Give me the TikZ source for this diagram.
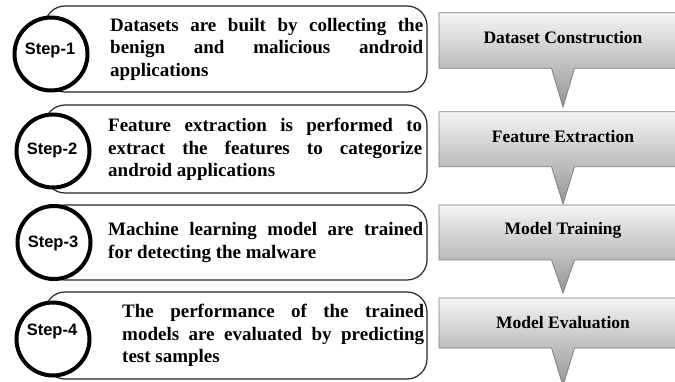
\documentclass[tikz,border=0pt]{standalone}
\usepackage{fontspec}
\setmainfont{Liberation Serif}
\setsansfont{Liberation Sans}
\begin{document}
\begin{tikzpicture}[x=1pt,y=-1pt,
  lbox/.style={draw=black!85, line width=1.2pt, rounded corners=20pt, inner sep=0pt, minimum width=382pt},
  desc/.style={anchor=west, inner sep=0pt, align=justify, font=\bfseries\fontsize{19}{22.5}\selectfont},
  stepc/.style={circle, draw=black, line width=4pt, fill=white, minimum size=73pt, inner sep=0pt},
  steplbl/.style={font=\sffamily\bfseries\fontsize{16.5}{19}\selectfont, inner sep=0pt},
  callout/.style={draw=black!50, line width=0.8pt, top color=black!4, bottom color=black!42},
  calltext/.style={font=\bfseries\fontsize{17.5}{20}\selectfont, inner sep=0pt}
]
\useasboundingbox (0,0) rectangle (675,382);
\fill[white] (0,0) rectangle (675,382);

% left rounded boxes
\node[lbox, minimum height=86pt] (b1) at (236,49) {};
\node[lbox, minimum height=88pt] (b2) at (236,149) {};
\node[lbox, minimum height=75pt] (b3) at (236,242.5) {};
\node[lbox, minimum height=87pt] (b4) at (236,335.5) {};

% step circles
\node[stepc] (s1) at (51,54) {};
\node[stepc] (s2) at (53,151) {};
\node[stepc] (s3) at (54,242.5) {};
\node[stepc] (s4) at (53,339) {};
\node[steplbl] (l1) at (50,50) {Step-1};
\node[steplbl] (l2) at (52,150) {Step-2};
\node[steplbl] (l3) at (53,243) {Step-3};
\node[steplbl] (l4) at (52,331) {Step-4};

% descriptions
\node[desc, text width=313pt] (t1) at (110,49) {Datasets are built by collecting the\linebreak benign and malicious android\linebreak applications};
\node[desc, text width=314pt] (t2) at (108,149.5) {Feature extraction is performed to\linebreak extract the features to categorize\linebreak android applications};
\node[desc, text width=315pt] (t3) at (108,242.5) {Machine learning model are trained\linebreak for detecting the malware};
\node[desc, text width=302pt] (t4) at (122,335.5) {The performance of the trained\linebreak models are evaluated by predicting\linebreak test samples};

% callouts
\begin{scope}
\clip (0,0) rectangle (675,382);
\path[callout] (439,12.7) -- (690,12.7) -- (690,68.3) -- (574.5,68.3) -- (563,107) -- (551.5,68.3) -- (439,68.3) -- cycle;
\path[callout] (439,111.7) -- (690,111.7) -- (690,166.7) -- (574.5,166.7) -- (563,204) -- (551.5,166.7) -- (439,166.7) -- cycle;
\path[callout] (439,205) -- (690,205) -- (690,260) -- (574.5,260) -- (563,293) -- (551.5,260) -- (439,260) -- cycle;
\path[callout] (439,298) -- (690,298) -- (690,348) -- (574.5,348) -- (563,386) -- (551.5,348) -- (439,348) -- cycle;
\end{scope}
\node[calltext] (c1) at (563,37.5) {Dataset Construction};
\node[calltext] (c2) at (563,137) {Feature Extraction};
\node[calltext] (c3) at (563,230.5) {Model Training};
\node[calltext] (c4) at (563,323) {Model Evaluation};
\end{tikzpicture}
\end{document}
